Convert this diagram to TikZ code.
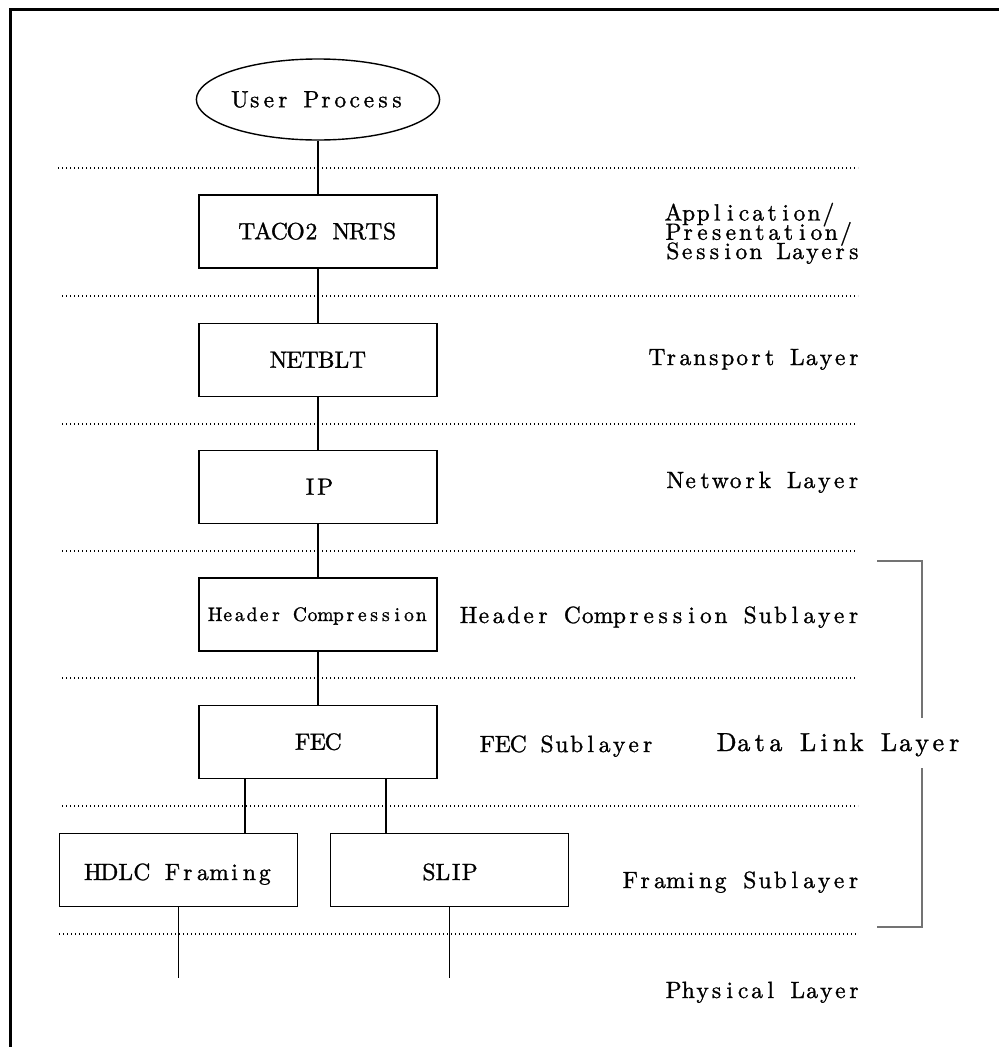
\documentclass[tikz,border=0pt]{standalone}
\usepackage{fontspec}
\setmainfont{lmroman10-regular.otf}[FakeBold=1.2]
\usetikzlibrary{shapes.geometric}

% Each character sits in its own box of nearly constant width,
% giving the evenly spread lettering of the layer labels.
% Optional argument: the constant part of each character cell.
\makeatletter
\newcommand\spacedtext[2][0.53em]{\def\lt@sp{#1}\@tfor\lt@ch:=#2\do{\lt@box}}
\newcommand\lt@box{\setbox\z@\hbox{\lt@ch}%
  \hbox to \dimexpr 0.22\wd\z@+\lt@sp\relax{\hss\box\z@\hss}}
\makeatother

\begin{document}
\begin{tikzpicture}[x=1pt,y=-1pt,
  lbl/.style={font=\fontsize{23.5}{27}\selectfont, inner sep=0pt},
  layerbox/.style={draw, line width=1.7pt, minimum width=238pt, minimum height=73pt,
    inner sep=0pt, text height=15.5pt, text depth=0pt, font=\fontsize{23.5}{27}\selectfont},
  link/.style={line width=1.8pt},
  sep/.style={line width=1.3pt, dash pattern=on 1.3pt off 2.7pt},
  bracket/.style={draw=black!55, line width=1.2pt}
]
\useasboundingbox (0,0) rectangle (999,1047);

% outer frame (top and left edges)
\draw[line width=3pt] (10.5,1047) -- (10.5,9.7) -- (999,9.7);

% layer separators
\draw[sep] (58,168) -- (858,168);
\draw[sep] (62,296) -- (858,296);
\draw[sep] (62,424) -- (856,424);
\draw[sep] (62,551) -- (856,551);
\draw[sep] (62,678) -- (857,678);
\draw[sep] (62,806) -- (858,806);
\draw[sep] (59,934) -- (856,934);

% protocol stack
\node[ellipse, draw, line width=1.4pt, minimum width=235pt, minimum height=81pt,
  inner sep=0pt, text height=15.5pt, text depth=0pt, font=\fontsize{23.5}{27}\selectfont]
  (user) at (318,99.5) {\spacedtext[0.508em]{User~Process}};
\node[layerbox] (taco) at (318,231.5) {\spacedtext{TACO2~NRTS}};
\node[layerbox] (netblt) at (318,360) {\spacedtext[0.52em]{NETBLT}};
\node[layerbox] (ip) at (318,487) {\spacedtext{IP}};
\node[layerbox, font=\fontsize{19.5}{23}\selectfont, text height=13pt] (hc) at (318,614.5)
  {\spacedtext[0.514em]{Header~Compression}};
\node[layerbox] (fec) at (318,742) {\spacedtext[0.5em]{FEC}};
\node[layerbox, text height=20pt] (hdlc) at (178.5,870) {\spacedtext[0.54em]{HDLC~Framing}};
\node[layerbox, text height=20pt] (slip) at (449.5,870) {\spacedtext[0.46em]{SLIP}};

% connections between the layers
\draw[link] (user.south) -- (taco.north);
\draw[link] (taco.south) -- (netblt.north);
\draw[link] (netblt.south) -- (ip.north);
\draw[link] (ip.south) -- (hc.north);
\draw[link] (hc.south) -- (fec.north);
\coordinate (fecl) at ([xshift=-73pt]fec.south);
\coordinate (fecr) at ([xshift=68pt]fec.south);
\draw[link] (fecl) -- (fecl |- hdlc.north);
\draw[link] (fecr) -- (fecr |- slip.north);
\coordinate (hdlcphy) at (hdlc.south |- 0,978);
\coordinate (slipphy) at (slip.south |- 0,978);
\draw[link] (hdlc.south) -- (hdlcphy);
\draw[link] (slip.south) -- (slipphy);

% layer names
\node[lbl, anchor=base west, text height=14pt, text depth=3pt] (app1) at (665.5,220.5)
  {\spacedtext[0.5em]{Application/}};
\node[lbl, anchor=base west, text height=14pt, text depth=3pt] (app2) at (665.5,239.8)
  {\spacedtext[0.512em]{Presentation/}};
\node[lbl, anchor=base west, text height=14pt, text depth=3pt] (app3) at (665.5,259)
  {\spacedtext[0.493em]{Session~Layers}};
\node[lbl, anchor=base east] (transport) at (861,365) {\spacedtext[0.494em]{Transport~Layer}};
\node[lbl, anchor=base east] (network) at (861,488) {\spacedtext[0.523em]{Network~Layer}};
\node[lbl, anchor=base east] (hcsub) at (861,623) {\spacedtext[0.524em]{Header~Compression~Sublayer}};
\node[lbl, anchor=base west] (fecsub) at (479.5,752) {\spacedtext[0.507em]{FEC~Sublayer}};
\node[lbl, anchor=base east] (framing) at (861,888) {\spacedtext[0.526em]{Framing~Sublayer}};
\node[lbl, anchor=base east] (physical) at (861,998) {\spacedtext[0.49em]{Physical~Layer}};

% data link layer bracket
\node[lbl, font=\fontsize{26}{30}\selectfont, anchor=base west] (dll) at (717.5,751)
  {\spacedtext[0.52em]{Data~Link~Layer}};
\draw[bracket] (877,561) -- (922,561) -- (922,718);
\draw[bracket] (922,768) -- (922,927) -- (877,927);
\end{tikzpicture}
\end{document}
